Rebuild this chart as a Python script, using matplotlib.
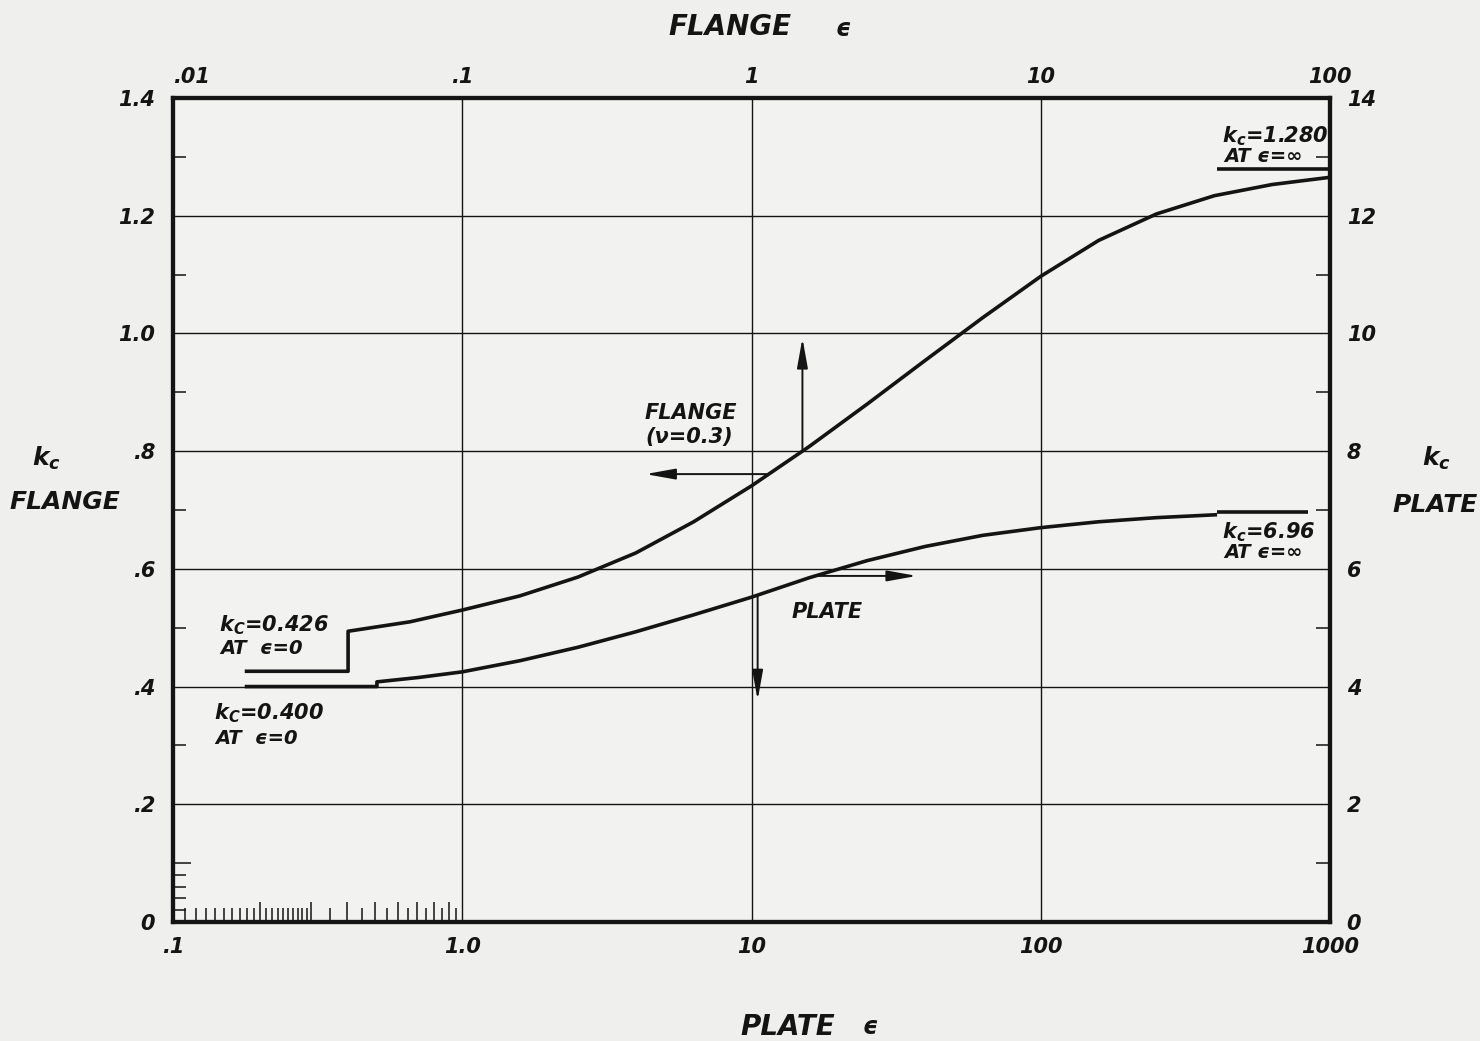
import matplotlib
matplotlib.use('Agg')
import matplotlib.pyplot as plt
from matplotlib.ticker import NullLocator, FixedLocator

plt.rcParams['font.family'] = ['DejaVu Sans']
try:
    plt.rcParams['mathtext.default'] = 'bfit'
except Exception:
    plt.rcParams['mathtext.default'] = 'it'

# ---------------- data ----------------
# flange curve: flange epsilon (top axis) vs flange k_c (left axis)
flange_eps = [0.0177, 0.0403, 0.0403, 0.0659, 0.1, 0.158, 0.251, 0.398, 0.631, 1.0, 1.585,
              2.512, 3.981, 6.31, 10.0, 15.85, 25.12, 39.81, 63.1, 99.0]
flange_k = [0.426, 0.426, 0.494, 0.51, 0.53, 0.554, 0.586, 0.627, 0.68, 0.741, 0.808,
            0.88, 0.954, 1.027, 1.097, 1.158, 1.203, 1.234, 1.253, 1.265]
flange_inf_eps = [40.7, 100.0]
flange_inf_k = [1.28, 1.28]

# plate curve: plate epsilon (bottom axis) vs plate k_c (right axis)
plate_eps = [0.177, 0.507, 0.507, 0.708, 1.0, 1.585, 2.512, 3.981, 6.31, 10.0, 15.85,
             25.12, 39.81, 63.1, 100.0, 158.5, 251.2, 407.0]
plate_k = [4.0, 4.0, 4.08, 4.155, 4.25, 4.44, 4.668, 4.931, 5.219, 5.519, 5.85,
           6.14, 6.38, 6.57, 6.70, 6.80, 6.87, 6.92]
plate_inf_eps = [407.0, 840.0]
plate_inf_k = [6.96, 6.96]

# ticks / labels
flange_eps_ticks = [0.01, 0.1, 1, 10, 100]
flange_eps_labels = ['.01', '.1', '1', '10', '100']
plate_eps_ticks = [0.1, 1, 10, 100, 1000]
plate_eps_labels = ['.1', '1.0', '10', '100', '1000']
flange_k_ticks = [0, 0.2, 0.4, 0.6, 0.8, 1.0, 1.2, 1.4]
flange_k_labels = ['0', '.2', '.4', '.6', '.8', '1.0', '1.2', '1.4']
plate_k_ticks = [0, 2, 4, 6, 8, 10, 12, 14]
plate_k_labels = ['0', '2', '4', '6', '8', '10', '12', '14']
flange_k_minor = [0.02, 0.04, 0.06, 0.08, 0.3, 0.5, 0.7, 0.9, 1.1, 1.3]
flange_k_long = [0.1]
plate_k_minor = [1, 3, 5, 7, 9, 11, 13]
plate_eps_minor = [0.11, 0.12, 0.13, 0.14, 0.15, 0.16, 0.17, 0.18, 0.19,
                   0.21, 0.22, 0.23, 0.24, 0.25, 0.26, 0.27, 0.28, 0.29,
                   0.35, 0.45, 0.55, 0.65, 0.75, 0.85, 0.95]
plate_eps_long = [0.2, 0.3, 0.4, 0.5, 0.6, 0.7, 0.8, 0.9]

# ---------------- figure ----------------
W, H = 1480, 1041
ink = '#141414'
bg = '#efefed'
fig = plt.figure(figsize=(W / 100, H / 100), dpi=100)
fig.patch.set_facecolor(bg)

L, R, B, T = 173, 1330, 922, 98
pos = [L / W, 1 - B / H, (R - L) / W, (B - T) / H]
ax_f = fig.add_axes(pos)
ax_p = fig.add_axes(pos)
ax_f.set_facecolor('#f2f2f0')
ax_p.patch.set_visible(False)

tfont = dict(family='DejaVu Sans', style='oblique', weight='bold', color=ink)

# flange axes (top / left)
ax_f.set_xscale('log')
ax_f.set_xlim(0.01, 100)
ax_f.set_ylim(0, 1.4)
ax_f.xaxis.tick_top()
ax_f.yaxis.tick_left()
ax_f.xaxis.set_major_locator(FixedLocator(flange_eps_ticks))
ax_f.xaxis.set_minor_locator(NullLocator())
ax_f.set_xticklabels(flange_eps_labels)
ax_f.set_yticks(flange_k_ticks)
ax_f.set_yticklabels(flange_k_labels)
ax_f.set_yticks(flange_k_minor, minor=True)
ax_f.tick_params(axis='x', which='major', length=0, pad=8, labelsize=15)
ax_f.tick_params(axis='y', which='major', length=0, pad=13, labelsize=15)
ax_f.tick_params(axis='y', which='minor', direction='in', length=9, width=1.1, color=ink)
for lab in ax_f.get_xticklabels() + ax_f.get_yticklabels():
    lab.set_fontstyle('oblique'); lab.set_fontweight('bold'); lab.set_color(ink)
ax_f.get_xticklabels()[0].set_horizontalalignment('left')
ax_f.grid(True, which='major', color=ink, lw=1.0)
ax_f.hlines(flange_k_long, 0, 18 / (R - L), transform=ax_f.get_yaxis_transform(),
            color=ink, lw=1.1)

# plate axes (bottom / right)
ax_p.set_xscale('log')
ax_p.set_xlim(0.1, 1000)
ax_p.set_ylim(0, 14)
ax_p.xaxis.tick_bottom()
ax_p.yaxis.tick_right()
ax_p.xaxis.set_major_locator(FixedLocator(plate_eps_ticks))
ax_p.xaxis.set_minor_locator(FixedLocator(plate_eps_minor))
ax_p.set_xticklabels(plate_eps_labels)
ax_p.xaxis.set_minor_formatter(plt.NullFormatter())
ax_p.set_yticks(plate_k_ticks)
ax_p.set_yticklabels(plate_k_labels)
ax_p.set_yticks(plate_k_minor, minor=True)
ax_p.tick_params(axis='x', which='major', length=0, pad=11, labelsize=15)
ax_p.tick_params(axis='x', which='minor', direction='in', length=10, width=1.1, color=ink)
ax_p.tick_params(axis='y', which='major', length=0, pad=12, labelsize=15)
ax_p.tick_params(axis='y', which='minor', direction='in', length=10, width=1.1, color=ink)
for lab in ax_p.get_xticklabels() + ax_p.get_yticklabels():
    lab.set_fontstyle('oblique'); lab.set_fontweight('bold'); lab.set_color(ink)
ax_p.vlines(plate_eps_long, 0, 20 / (B - T), transform=ax_p.get_xaxis_transform(),
            color=ink, lw=1.1)

for ax in (ax_f, ax_p):
    for s in ax.spines.values():
        s.set_linewidth(3.0)
        s.set_color(ink)

# curves
ax_f.plot(flange_eps, flange_k, color=ink, lw=2.6, solid_capstyle='butt', solid_joinstyle='round')
ax_f.plot(flange_inf_eps, flange_inf_k, color=ink, lw=2.6, solid_capstyle='butt')
ax_p.plot(plate_eps, plate_k, color=ink, lw=2.6, solid_capstyle='butt', solid_joinstyle='round')
ax_p.plot(plate_inf_eps, plate_inf_k, color=ink, lw=2.6, solid_capstyle='butt')

# arrows
ap = dict(arrowstyle='-|>,head_length=1.0,head_width=0.18', color=ink, lw=1.4,
          shrinkA=0, shrinkB=0, mutation_scale=18)
ax_f.annotate('', xy=(1.5, 0.992), xytext=(1.5, 0.80), arrowprops=ap)
ax_f.annotate('', xy=(0.43, 0.761), xytext=(1.13, 0.761), arrowprops=ap)
ax_p.annotate('', xy=(10.5, 3.77), xytext=(10.5, 5.55), arrowprops=ap)
ax_p.annotate('', xy=(37.3, 5.88), xytext=(16.8, 5.88), arrowprops=ap)


def ft(x, y, s, size=15, ha='left', va='center'):
    fig.text(x / W, 1 - y / H, s, fontsize=size, ha=ha, va=va, **tfont)


# axis titles
ft(730, 27, 'FLANGE', 20, ha='center')
ft(843, 29, 'ϵ', 17, ha='center')
ft(788, 1027, 'PLATE', 20, ha='center')
ft(870, 1027, 'ϵ', 17, ha='center')
ft(47, 458, '$k_c$', 18, ha='center')
ft(65, 502, 'FLANGE', 18, ha='center')
ft(1437, 458, '$k_c$', 18, ha='center')
ft(1435, 505, 'PLATE', 18, ha='center')

# annotations
ft(1222, 136, '$k_c$=1.280', 15)
ft(1224, 157, 'AT ϵ=∞', 14)
ft(1222, 532, '$k_c$=6.96', 15)
ft(1224, 553, 'AT ϵ=∞', 14)
ft(645, 413, 'FLANGE', 15)
ft(645, 437, '(ν=0.3)', 15)
ft(792, 612, 'PLATE', 15)
ft(219, 625, '$k_C$=0.426', 15)
ft(220, 649, 'AT  ϵ=0', 14)
ft(214, 713, '$k_C$=0.400', 15)
ft(215, 739, 'AT  ϵ=0', 14)

fig.savefig('out.png', dpi=100, facecolor=bg)
